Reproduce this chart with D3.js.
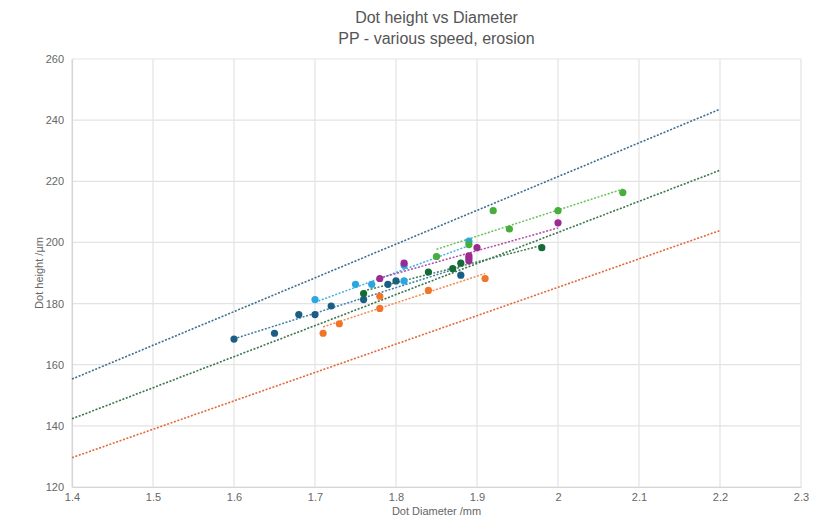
<!DOCTYPE html>
<html>
<head>
<meta charset="utf-8">
<script src="https://cdn.jsdelivr.net/npm/d3@7"></script>
<style>
  body { margin: 0; background: #fff; }
  text { font-family: "Liberation Sans", Arial, sans-serif; }
</style>
</head>
<body>
<script>
// x ticks / y ticks
var xTicks = [1.4, 1.5, 1.6, 1.7, 1.8, 1.9, 2.0, 2.1, 2.2, 2.3];
var yTicks = [120, 140, 160, 180, 200, 220, 240, 260];

// measured series (diameter mm, height um)
var darkBlueX = [1.60, 1.65, 1.68, 1.70, 1.72, 1.76, 1.79, 1.80, 1.88];
var darkBlueY = [168.4, 170.3, 176.4, 176.4, 179.2, 181.3, 186.3, 187.4, 189.3];

var lightBlueX = [1.70, 1.75, 1.77, 1.81, 1.81, 1.89];
var lightBlueY = [181.3, 186.3, 186.3, 187.4, 192.5, 200.4];

var purpleX = [1.78, 1.81, 1.89, 1.89, 1.89, 1.90, 2.00];
var purpleY = [188.2, 193.2, 195.6, 194.8, 194.0, 198.3, 206.4];

var greenX = [1.85, 1.89, 1.92, 1.94, 2.00, 2.08];
var greenY = [195.4, 199.3, 210.4, 204.4, 210.4, 216.3];

var darkGreenX = [1.76, 1.84, 1.87, 1.88, 1.98];
var darkGreenY = [183.3, 190.3, 191.4, 193.2, 198.3];

var orangeX = [1.71, 1.73, 1.78, 1.78, 1.84, 1.91];
var orangeY = [170.3, 173.4, 182.4, 178.4, 184.3, 188.2];

// long reference lines (no markers)
var refX = [1.4, 2.2];
var refBlueY = [155.3, 243.6];
var refGreenY = [142.3, 223.6];
var refOrangeY = [129.6, 203.9];

var series = [
  {xs: darkBlueX, ys: darkBlueY, color: "#1a5e84", trend: "#3f7fa6"},
  {xs: lightBlueX, ys: lightBlueY, color: "#2aa6e0", trend: "#3fb0e6"},
  {xs: purpleX, ys: purpleY, color: "#9b2a92", trend: "#b24aa8"},
  {xs: greenX, ys: greenY, color: "#47ad3b", trend: "#6cc15e"},
  {xs: darkGreenX, ys: darkGreenY, color: "#156a36", trend: "#3d7d4f"},
  {xs: orangeX, ys: orangeY, color: "#f1742b", trend: "#f38a4c"}
];
var refs = [
  {ys: refBlueY, color: "#3d6e90"},
  {ys: refGreenY, color: "#3a7449"},
  {ys: refOrangeY, color: "#e2693a"}
];

var W = 824, H = 520;
var margin = {top: 59, right: 23, bottom: 33, left: 72};
var width = W - margin.left - margin.right,
    height = H - margin.top - margin.bottom;

var svg = d3.select("body").append("svg")
    .attr("width", W)
    .attr("height", H);

var x = d3.scaleLinear().domain([1.4, 2.3]).range([0, width]);
var y = d3.scaleLinear().domain([120, 260]).range([height, 0]);

var g = svg.append("g")
    .attr("transform", "translate(" + margin.left + "," + margin.top + ")");

// grid
g.selectAll(".vgrid").data(xTicks).enter().append("line")
    .attr("x1", function(d) { return x(d); })
    .attr("x2", function(d) { return x(d); })
    .attr("y1", 0).attr("y2", height)
    .attr("stroke", "#e3e3e3").attr("stroke-width", 1.2);
g.selectAll(".hgrid").data(yTicks).enter().append("line")
    .attr("y1", function(d) { return y(d); })
    .attr("y2", function(d) { return y(d); })
    .attr("x1", 0).attr("x2", width)
    .attr("stroke", "#e3e3e3").attr("stroke-width", 1.2);

// axes
var xAxis = g.append("g")
    .attr("transform", "translate(0," + height + ")")
    .call(d3.axisBottom(x).tickValues(xTicks).tickSize(0).tickPadding(6)
        .tickFormat(function(d) { return d3.format("")(+d.toFixed(1)); }));
var yAxis = g.append("g")
    .call(d3.axisLeft(y).tickValues(yTicks).tickSize(0).tickPadding(8));
[xAxis, yAxis].forEach(function(a) {
  a.select(".domain").attr("stroke", "#d6d6d6").attr("stroke-width", 1.2);
  a.selectAll("text").attr("fill", "#666").style("font-size", "11px")
      .style("font-family", "'Liberation Sans', Arial, sans-serif");
});

var line = d3.line()
    .x(function(d) { return x(d[0]); })
    .y(function(d) { return y(d[1]); });

// reference lines
refs.forEach(function(r) {
  g.append("path")
      .datum(refX.map(function(v, i) { return [v, r.ys[i]]; }))
      .attr("d", line)
      .attr("fill", "none")
      .attr("stroke", r.color)
      .attr("stroke-width", 1.6)
      .attr("stroke-dasharray", "2,1.6");
});

// linear trendlines (least squares)
function fit(xs, ys) {
  var mx = d3.mean(xs), my = d3.mean(ys);
  var sxy = 0, sxx = 0;
  for (var i = 0; i < xs.length; i++) {
    sxy += (xs[i] - mx) * (ys[i] - my);
    sxx += (xs[i] - mx) * (xs[i] - mx);
  }
  var b = sxy / sxx;
  return function(v) { return my + b * (v - mx); };
}

series.forEach(function(s) {
  var f = fit(s.xs, s.ys);
  var ext = d3.extent(s.xs);
  g.append("path")
      .datum(ext.map(function(v) { return [v, f(v)]; }))
      .attr("d", line)
      .attr("fill", "none")
      .attr("stroke", s.trend)
      .attr("stroke-width", 1.5)
      .attr("stroke-dasharray", "2,1.6");
});

// points
series.forEach(function(s) {
  g.selectAll(null)
      .data(s.xs.map(function(v, i) { return [v, s.ys[i]]; }))
      .enter().append("circle")
      .attr("cx", function(d) { return x(d[0]); })
      .attr("cy", function(d) { return y(d[1]); })
      .attr("r", 3.6)
      .attr("fill", s.color);
});

// titles
var cx = margin.left + width / 2;
svg.append("text")
    .attr("x", cx).attr("y", 23)
    .attr("text-anchor", "middle")
    .attr("fill", "#555").style("font-size", "16px")
    .text("Dot height vs Diameter");
svg.append("text")
    .attr("x", cx).attr("y", 44)
    .attr("text-anchor", "middle")
    .attr("fill", "#555").style("font-size", "16px")
    .text("PP - various speed, erosion");

svg.append("text")
    .attr("x", cx).attr("y", 515)
    .attr("text-anchor", "middle")
    .attr("fill", "#666").style("font-size", "11px")
    .text("Dot Diameter /mm");

svg.append("text")
    .attr("transform", "translate(43," + (margin.top + height / 2) + ") rotate(-90)")
    .attr("text-anchor", "middle")
    .attr("fill", "#666").style("font-size", "11px")
    .text("Dot height /µm");
</script>
</body>
</html>
